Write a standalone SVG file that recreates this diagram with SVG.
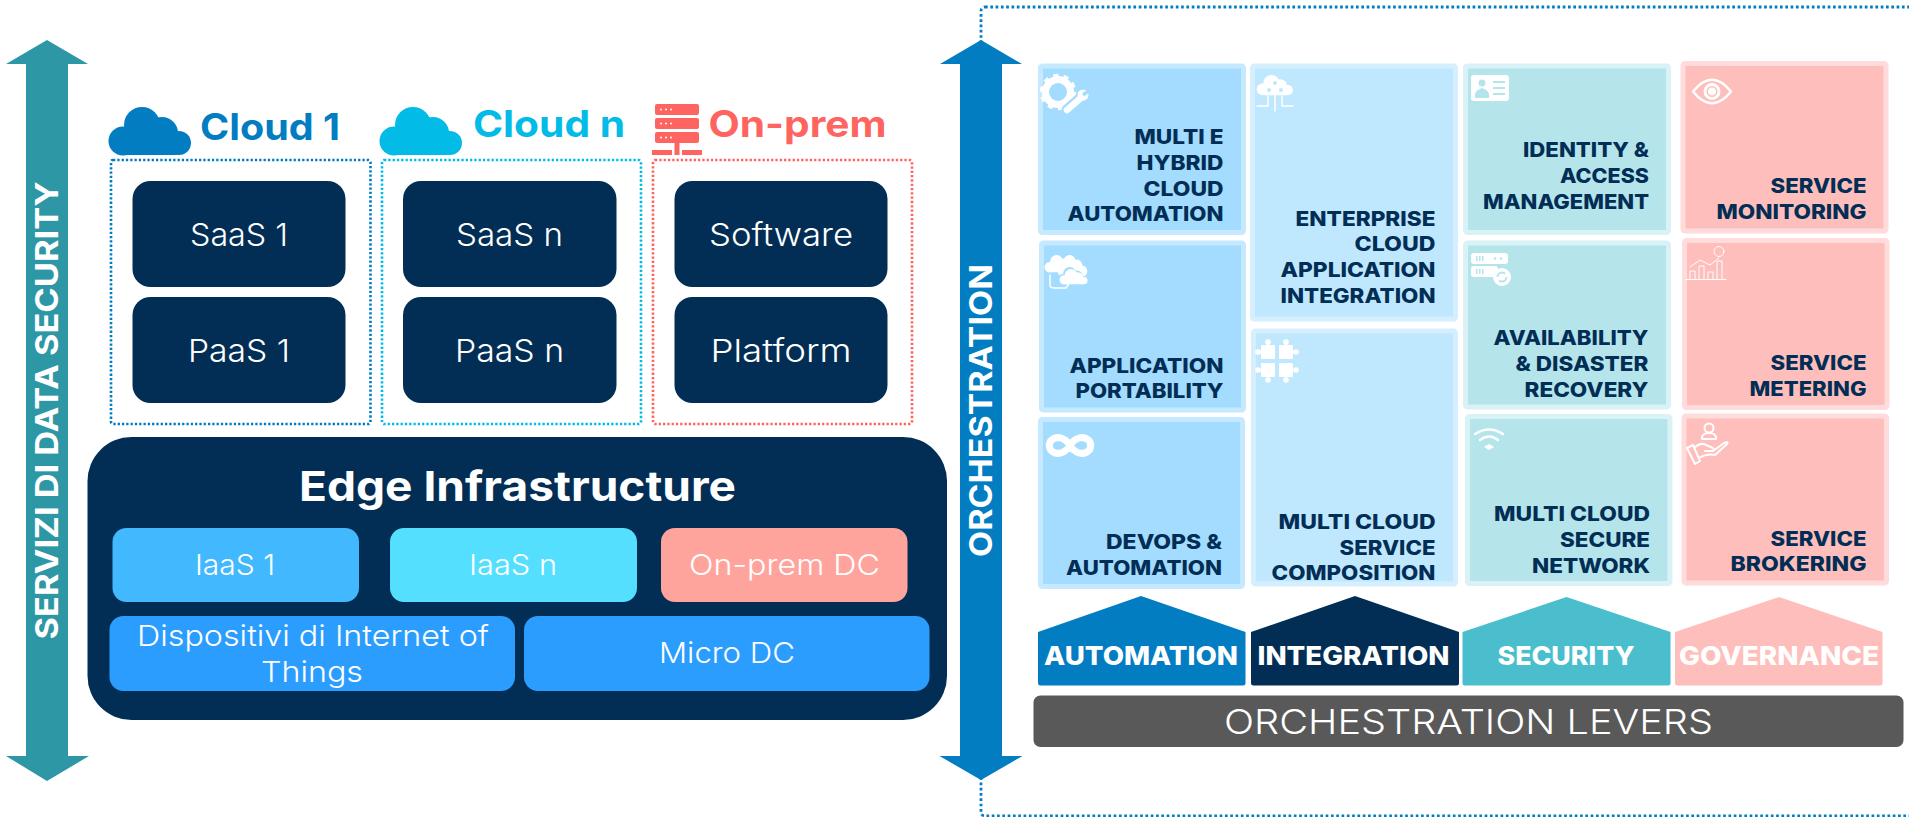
<svg xmlns="http://www.w3.org/2000/svg" width="1909" height="817" viewBox="0 0 1909 817">
<style>
text{font-family:Inter,"Noto Sans","Liberation Sans",sans-serif}
.w{fill:#fff}
.n{fill:#022e55}
.box{fill:#022e55}
.lt{font-size:31.500px;font-weight:300;fill:#fff;text-anchor:middle}
.it{font-size:29px;font-weight:300;fill:#fff;text-anchor:middle}
.hd{font-size:37px;font-weight:700}
.tl{font-size:20.500px;font-weight:800;fill:#022e55;text-anchor:end}
.lv{font-size:26px;font-weight:800;fill:#fff;text-anchor:middle}
.vt{font-size:31.500px;font-weight:700;fill:#fff;text-anchor:middle}
.dot{fill:none;stroke-width:2.600;stroke-dasharray:2.300 2}
.a{fill:#a3dcff;stroke:#c5e9ff;stroke-width:5}
.i{fill:#bfe8ff;stroke:#d5efff;stroke-width:5}
.s{fill:#b5e5eb;stroke:#d9f2f5;stroke-width:5}
.g{fill:#febebb;stroke:#ffdcdb;stroke-width:5}
.ln{fill:none;stroke:#fff;stroke-linecap:round;stroke-linejoin:round}
</style>
<defs>
<g id="cloud"><circle cx="35" cy="18" r="18"/><circle cx="55" cy="26" r="16"/><circle cx="16" cy="34" r="14.500"/><circle cx="72" cy="36" r="12"/><rect x="16" y="30" width="56" height="18" rx="4"/></g>
<g id="piece"><rect x="-7" y="-7" width="14" height="14" rx="1"/><circle cx="0" cy="-10" r="2.800"/><circle cx="-10" cy="0" r="2.800"/><rect x="-1.200" y="-10" width="2.400" height="4"/><rect x="-10" y="-1.200" width="4" height="2.400"/></g>
</defs>

<g id="connectors">
<rect x="981" y="7" width="1000" height="809" rx="4" class="dot" stroke="#027dc2" style="stroke-width:2.800;stroke-dasharray:2.700 2.600"/>
<path d="M47 40L88 64H68V756H89L47 781L6 756H26V64H6Z" fill="#2e97a6"/>
<path d="M981 40L1022 64H1002V756H1022.500L981 780L939.500 756H960V64H940Z" fill="#027dc2"/>
<text class="vt" transform="translate(58,410.500) rotate(-90)" textLength="458" lengthAdjust="spacingAndGlyphs">SERVIZI DI DATA SECURITY</text>
<text class="vt" transform="translate(992,410.500) rotate(-90)" textLength="293" lengthAdjust="spacingAndGlyphs">ORCHESTRATION</text>
</g>

<g id="cloud-1">
<use href="#cloud" x="107" y="107" fill="#027dc2"/>
<text class="hd" x="200" y="140" fill="#027dc2" textLength="140" lengthAdjust="spacingAndGlyphs">Cloud 1</text>
<rect class="dot" x="111" y="160" width="259.500" height="264" rx="2" stroke="#027dc2"/>
<rect class="box" x="132.500" y="181" width="213" height="106" rx="18"/>
<text class="lt" x="239" y="246" textLength="98" lengthAdjust="spacingAndGlyphs">SaaS 1</text>
<rect class="box" x="132.500" y="297" width="213" height="106" rx="18"/>
<text class="lt" x="239" y="362" textLength="102" lengthAdjust="spacingAndGlyphs">PaaS 1</text>
</g>

<g id="cloud-n">
<use href="#cloud" x="378" y="107" fill="#02bbe7"/>
<text class="hd" x="473" y="137" fill="#02bbe7" textLength="152" lengthAdjust="spacingAndGlyphs">Cloud n</text>
<rect class="dot" x="382" y="160" width="259" height="264" rx="2" stroke="#02bbe7"/>
<rect class="box" x="403" y="181" width="213.500" height="106" rx="18"/>
<text class="lt" x="509.500" y="246" textLength="107" lengthAdjust="spacingAndGlyphs">SaaS n</text>
<rect class="box" x="403" y="297" width="213.500" height="106" rx="18"/>
<text class="lt" x="509.500" y="362" textLength="109" lengthAdjust="spacingAndGlyphs">PaaS n</text>
</g>

<g id="on-prem">
<g fill="#ff6560">
<rect x="655" y="104" width="44" height="11" rx="2"/><rect x="655" y="118" width="44" height="11" rx="2"/><rect x="655" y="132" width="44" height="11" rx="2"/>
<rect x="674.500" y="143" width="5" height="7"/><rect x="652" y="150" width="20" height="5"/><rect x="674.500" y="150" width="5" height="5"/><rect x="682" y="150" width="20" height="5"/>
</g>
<g fill="#fff"><circle cx="661" cy="109.500" r="1"/><circle cx="666" cy="109.500" r="1"/><circle cx="671" cy="109.500" r="1"/><circle cx="661" cy="123.500" r="1"/><circle cx="666" cy="123.500" r="1"/><circle cx="671" cy="123.500" r="1"/><circle cx="661" cy="137.500" r="1"/><circle cx="666" cy="137.500" r="1"/><circle cx="671" cy="137.500" r="1"/></g>
<text class="hd" x="708.500" y="137" fill="#ff6560" textLength="178" lengthAdjust="spacingAndGlyphs">On-prem</text>
<rect class="dot" x="653" y="160" width="259" height="264" rx="2" stroke="#ff6560"/>
<rect class="box" x="674.500" y="181" width="213" height="106" rx="18"/>
<text class="lt" x="781" y="246" textLength="144" lengthAdjust="spacingAndGlyphs">Software</text>
<rect class="box" x="674.500" y="297" width="213" height="106" rx="18"/>
<text class="lt" x="781" y="362" textLength="141" lengthAdjust="spacingAndGlyphs">Platform</text>
</g>

<g id="edge">
<rect class="box" x="87.500" y="437" width="859.500" height="283" rx="44"/>
<text x="517.500" y="501" fill="#fff" font-size="41" font-weight="700" text-anchor="middle" textLength="437" lengthAdjust="spacingAndGlyphs">Edge Infrastructure</text>
<rect x="112.500" y="528" width="246.500" height="74" rx="14" fill="#42b8ff"/>
<text class="it" x="235" y="575" textLength="80" lengthAdjust="spacingAndGlyphs">IaaS 1</text>
<rect x="390" y="528" width="247" height="74" rx="14" fill="#55dfff"/>
<text class="it" x="513" y="575" textLength="88" lengthAdjust="spacingAndGlyphs">IaaS n</text>
<rect x="661" y="528" width="246.500" height="74" rx="14" fill="#ffa49c"/>
<text class="it" x="784.500" y="575" textLength="191" lengthAdjust="spacingAndGlyphs">On-prem DC</text>
<rect x="109.500" y="616" width="405.500" height="75" rx="14" fill="#2b9dff"/>
<text class="it" x="313" y="645.500" textLength="352" lengthAdjust="spacingAndGlyphs">Dispositivi di Internet of</text>
<text class="it" x="312" y="681.500" textLength="102" lengthAdjust="spacingAndGlyphs">Things</text>
<rect x="524" y="616" width="405.500" height="75" rx="14" fill="#2b9dff"/>
<text class="it" x="727" y="663" textLength="136" lengthAdjust="spacingAndGlyphs">Micro DC</text>
</g>

<g id="multi-hybrid">
<rect class="a" x="1040.500" y="66" width="203" height="166.500" rx="2"/>
<text class="tl" x="1223.500" y="144" textLength="89" lengthAdjust="spacingAndGlyphs">MULTI E</text>
<text class="tl" x="1223.500" y="170" textLength="87" lengthAdjust="spacingAndGlyphs">HYBRID</text>
<text class="tl" x="1223.500" y="195.500" textLength="80" lengthAdjust="spacingAndGlyphs">CLOUD</text>
<text class="tl" x="1223.500" y="221" textLength="156" lengthAdjust="spacingAndGlyphs">AUTOMATION</text>
<circle cx="1058" cy="92" r="12.500" fill="none" stroke="#fff" stroke-width="7"/>
<circle cx="1058" cy="92" r="16" fill="none" stroke="#fff" stroke-width="4.500" stroke-dasharray="5 5.050"/>
<path d="M1067 110L1083 96" fill="none" stroke="#a3dcff" stroke-width="11" stroke-linecap="round"/>
<path d="M1067 110L1083 96" fill="none" stroke="#fff" stroke-width="6.500" stroke-linecap="round"/>
<circle cx="1083" cy="95" r="5.500" fill="#fff"/>
<path d="M1083 95L1090 90" fill="none" stroke="#a3dcff" stroke-width="3.500"/>
</g>

<g id="application-portability">
<rect class="a" x="1041.500" y="243" width="202" height="167" rx="2"/>
<text class="tl" x="1223.500" y="373" textLength="154" lengthAdjust="spacingAndGlyphs">APPLICATION</text>
<text class="tl" x="1223.500" y="398" textLength="148" lengthAdjust="spacingAndGlyphs">PORTABILITY</text>
<use href="#cloud" transform="translate(1044,255) scale(.36,.36)" fill="#fff"/>
<use href="#cloud" transform="translate(1057,255) scale(.36,.45)" fill="#fff"/>
<use href="#cloud" transform="translate(1057,267) scale(.36,.36)" fill="#a3dcff"/>
<use href="#cloud" transform="translate(1059,269) scale(.34,.32)" fill="#fff"/>
<path class="ln" d="M1050 275V285Q1050 288 1054 288H1066L1070 282" stroke-width="1.500"/>
</g>

<g id="devops">
<rect class="a" x="1040.500" y="419.500" width="202" height="167" rx="2"/>
<text class="tl" x="1222" y="549" textLength="116" lengthAdjust="spacingAndGlyphs">DEVOPS &amp;</text>
<text class="tl" x="1222" y="575" textLength="156" lengthAdjust="spacingAndGlyphs">AUTOMATION</text>
<path class="ln" d="M1070 445.500C1064 436 1056 437 1053 439C1048 442 1048 449 1053 452C1056 454 1064 455 1070 445.500C1076 436 1084 437 1087 439C1092 442 1092 449 1087 452C1084 454 1076 455 1070 445.500Z" stroke-width="7"/>
</g>

<g id="enterprise">
<rect class="i" x="1252.500" y="66" width="203" height="253" rx="2"/>
<text class="tl" x="1435.500" y="225.500" textLength="140" lengthAdjust="spacingAndGlyphs">ENTERPRISE</text>
<text class="tl" x="1435.500" y="251" textLength="81" lengthAdjust="spacingAndGlyphs">CLOUD</text>
<text class="tl" x="1435.500" y="277" textLength="155" lengthAdjust="spacingAndGlyphs">APPLICATION</text>
<text class="tl" x="1435.500" y="303" textLength="155" lengthAdjust="spacingAndGlyphs">INTEGRATION</text>
<use href="#cloud" transform="translate(1256,75) scale(.44,.42)" fill="#fff"/>
<path class="ln" d="M1275 105V111M1257 106H1268V96M1293 106H1282V96M1275 105V84" stroke-width="1.500"/>
<g fill="#bfe8ff"><circle cx="1275" cy="83" r="2"/><circle cx="1269" cy="90" r="2"/><circle cx="1281" cy="90" r="2"/></g>
</g>

<g id="composition">
<rect class="i" x="1253.500" y="331" width="202" height="253" rx="2"/>
<text class="tl" x="1435.500" y="529" textLength="157" lengthAdjust="spacingAndGlyphs">MULTI CLOUD</text>
<text class="tl" x="1435.500" y="554.500" textLength="96" lengthAdjust="spacingAndGlyphs">SERVICE</text>
<text class="tl" x="1435.500" y="580" textLength="164" lengthAdjust="spacingAndGlyphs">COMPOSITION</text>
<g fill="#fff"><use href="#piece" transform="translate(1268,352)"/><use href="#piece" transform="translate(1286,352) rotate(90)"/><use href="#piece" transform="translate(1268,370) rotate(-90)"/><use href="#piece" transform="translate(1286,370) rotate(180)"/></g>
</g>

<g id="identity">
<rect class="s" x="1465.500" y="66" width="203" height="166.500" rx="2"/>
<text class="tl" x="1649" y="157" textLength="126" lengthAdjust="spacingAndGlyphs">IDENTITY &amp;</text>
<text class="tl" x="1649" y="182.500" textLength="89" lengthAdjust="spacingAndGlyphs">ACCESS</text>
<text class="tl" x="1649" y="208.500" textLength="166" lengthAdjust="spacingAndGlyphs">MANAGEMENT</text>
<rect x="1471" y="75" width="38" height="26" rx="3" fill="#fff"/>
<g fill="#b5e5eb"><circle cx="1482" cy="83" r="3.500"/><path d="M1475 98V94Q1476 90 1482 88Q1488 90 1489 94V98Z"/><rect x="1493" y="81" width="12" height="2"/><rect x="1493" y="87" width="12" height="2"/><rect x="1493" y="93" width="12" height="2"/></g>
</g>

<g id="availability">
<rect class="s" x="1465.500" y="243" width="203" height="164" rx="2"/>
<text class="tl" x="1648.500" y="345" textLength="155" lengthAdjust="spacingAndGlyphs">AVAILABILITY</text>
<text class="tl" x="1648.500" y="371" textLength="133" lengthAdjust="spacingAndGlyphs">&amp; DISASTER</text>
<text class="tl" x="1648.500" y="397" textLength="124" lengthAdjust="spacingAndGlyphs">RECOVERY</text>
<rect x="1471" y="253" width="37" height="11" rx="3" fill="#fff"/><rect x="1471" y="266" width="27" height="11" rx="3" fill="#fff"/>
<circle cx="1502" cy="277" r="9" fill="#fff"/>
<g fill="#b5e5eb"><rect x="1476" y="256" width="1.500" height="5"/><rect x="1479" y="256" width="1.500" height="5"/><rect x="1482" y="256" width="1.500" height="5"/><circle cx="1495" cy="258.500" r="1.300"/><circle cx="1501" cy="258.500" r="1.300"/><rect x="1476" y="269" width="1.500" height="5"/><rect x="1479" y="269" width="1.500" height="5"/><rect x="1482" y="269" width="1.500" height="5"/></g>
<circle cx="1502" cy="277" r="4.500" fill="none" stroke="#b5e5eb" stroke-width="2" stroke-dasharray="10 4"/>
</g>

<g id="secure-network">
<rect class="s" x="1467.500" y="416.500" width="202.500" height="167" rx="2"/>
<text class="tl" x="1650" y="521" textLength="156" lengthAdjust="spacingAndGlyphs">MULTI CLOUD</text>
<text class="tl" x="1650" y="546.500" textLength="90" lengthAdjust="spacingAndGlyphs">SECURE</text>
<text class="tl" x="1650" y="572.500" textLength="118" lengthAdjust="spacingAndGlyphs">NETWORK</text>
<path class="ln" d="M1475 434Q1489 425 1503 434M1480 440Q1489 433 1498 440" stroke-width="2.500"/><path d="M1489 444L1494 447L1489 450L1484 447Z" fill="#fff"/>
</g>

<g id="monitoring">
<rect class="g" x="1683" y="63.500" width="203" height="167.500" rx="2"/>
<text class="tl" x="1866.500" y="193" textLength="96" lengthAdjust="spacingAndGlyphs">SERVICE</text>
<text class="tl" x="1866.500" y="219" textLength="150" lengthAdjust="spacingAndGlyphs">MONITORING</text>
<path class="ln" d="M1693 91.500Q1712 68 1731 91.500Q1712 115 1693 91.500Z" stroke-width="2.500"/>
<circle cx="1712" cy="91.500" r="7" fill="none" stroke="#fff" stroke-width="3"/><circle cx="1712" cy="91.500" r="4" fill="#fff"/>
</g>

<g id="metering">
<rect class="g" x="1684.500" y="240.500" width="202.500" height="167" rx="2"/>
<text class="tl" x="1866.500" y="370" textLength="96" lengthAdjust="spacingAndGlyphs">SERVICE</text>
<text class="tl" x="1866.500" y="396" textLength="117" lengthAdjust="spacingAndGlyphs">METERING</text>
<g class="ln" stroke-width="1"><path d="M1686 279.500H1726M1690 279.500V271H1695V279.500M1699 279.500V266H1704V279.500M1708 279.500V272H1713V279.500M1717 279.500V261H1722V279.500M1690 267L1700 260L1710 265L1719 258"/><circle cx="1719" cy="251.500" r="5"/></g>
</g>

<g id="brokering">
<rect class="g" x="1684" y="416" width="202.500" height="167" rx="2"/>
<text class="tl" x="1866.500" y="546" textLength="96" lengthAdjust="spacingAndGlyphs">SERVICE</text>
<text class="tl" x="1866.500" y="571" textLength="136" lengthAdjust="spacingAndGlyphs">BROKERING</text>
<g class="ln" stroke-width="2"><circle cx="1709" cy="428" r="4.500"/><path d="M1702 439V437Q1703 433 1709 433Q1715 433 1716 437V439Z"/><path d="M1687 448L1695 464L1700 461L1693 445ZM1695 447Q1701 442 1706 445L1713 448Q1716 451 1711 451H1705M1699 458Q1707 453 1715 455L1727 444Q1729 441 1724 443L1713 451"/></g>
</g>

<g id="lever-automation">
<path d="M1141 596L1245.500 632V683Q1245.500 685.500 1243 685.500H1040.500Q1038 685.500 1038 683V632Z" fill="#027dc2"/>
<text class="lv" x="1141" y="665" textLength="194" lengthAdjust="spacingAndGlyphs">AUTOMATION</text>
</g>
<g id="lever-integration">
<path d="M1355 596L1459 632V683Q1459 685.500 1456.500 685.500H1253.500Q1251 685.500 1251 683V632Z" fill="#022e55"/>
<text class="lv" x="1353.500" y="665" textLength="192" lengthAdjust="spacingAndGlyphs">INTEGRATION</text>
</g>
<g id="lever-security">
<path d="M1566.500 597L1670.500 632V683Q1670.500 685.500 1668 685.500H1465Q1462.500 685.500 1462.500 683V632Z" fill="#4abecd"/>
<text class="lv" x="1566" y="665" textLength="137" lengthAdjust="spacingAndGlyphs">SECURITY</text>
</g>
<g id="lever-governance">
<path d="M1779 597L1882.500 632V683Q1882.500 685.500 1880 685.500H1677.500Q1675 685.500 1675 683V632Z" fill="#febebb"/>
<text class="lv" x="1779" y="665" textLength="200" lengthAdjust="spacingAndGlyphs">GOVERNANCE</text>
</g>
<g id="orchestration-levers">
<rect x="1033.500" y="695.500" width="870" height="51.500" rx="7" fill="#595959"/>
<text x="1468.500" y="734" fill="#fff" font-size="34.500" font-weight="300" text-anchor="middle" textLength="489" lengthAdjust="spacingAndGlyphs">ORCHESTRATION LEVERS</text>
</g>
</svg>
